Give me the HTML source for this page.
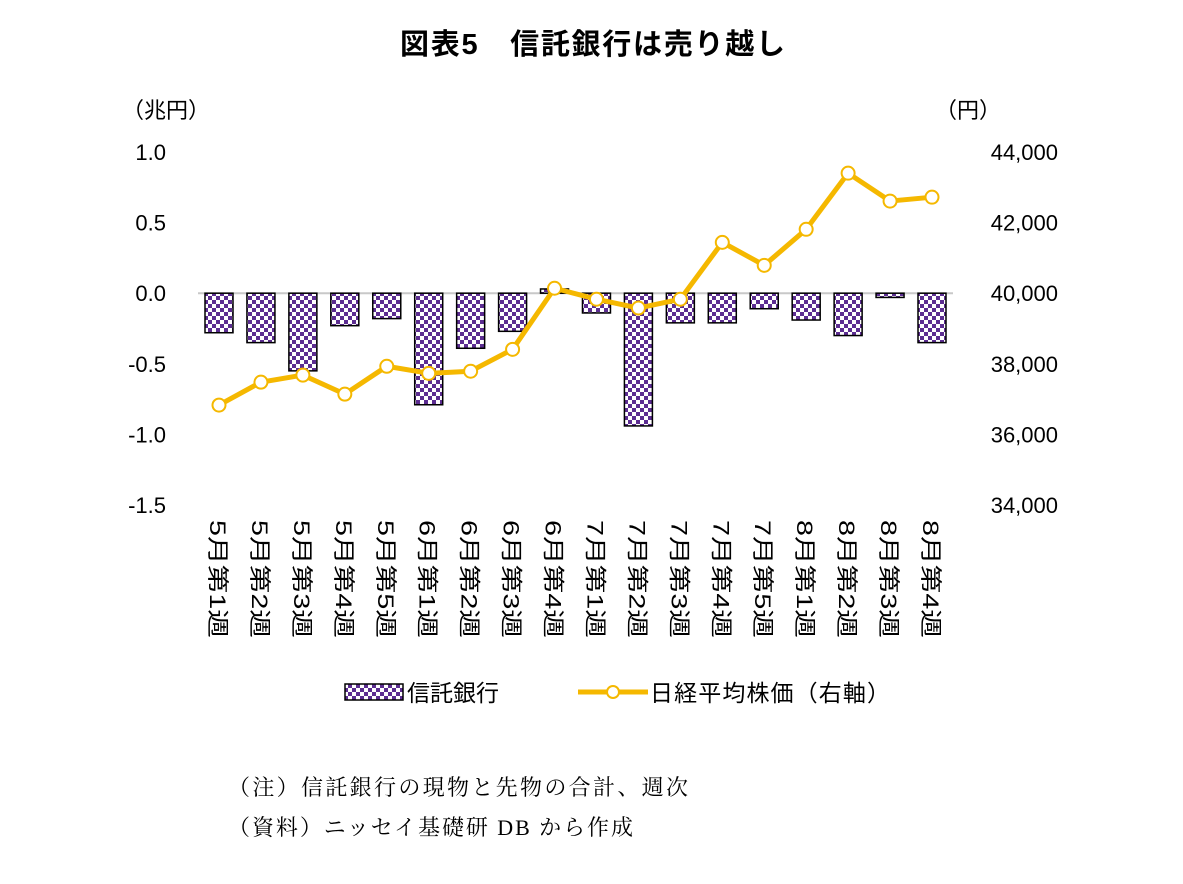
<!DOCTYPE html>
<html><head><meta charset="utf-8"><style>
body{margin:0;background:#fff;}
svg text{font-family:"Liberation Sans","Noto Sans CJK JP",sans-serif;}
</style></head><body>
<svg id="chart" width="1183" height="879" viewBox="0 0 1183 879" xmlns="http://www.w3.org/2000/svg">
<defs>
<pattern id="chk" width="8" height="8" patternUnits="userSpaceOnUse">
<rect width="8" height="8" fill="#fff"/>
<rect width="4" height="4" fill="#5c2d91"/>
<rect x="4" y="4" width="4" height="4" fill="#5c2d91"/>
</pattern>
</defs>
<text x="400" y="54" textLength="385" font-size="29" font-weight="bold" fill="#000">図表5　信託銀行は売り越し</text>
<text x="122" y="118" font-size="22" fill="#000">（兆円）</text>
<text x="935" y="118" font-size="22" fill="#000">（円）</text>
<g id="yl"></g><g id="yr"></g><g id="bars"></g><g id="line"></g><g id="xl"></g>
<g>
<rect x="345" y="684" width="58" height="16" fill="url(#chk)" stroke="#000" stroke-width="1.5"/>
<text x="407" y="701" font-size="23">信託銀行</text>
<line x1="578" y1="692" x2="648" y2="692" stroke="#f5b800" stroke-width="5"/>
<circle cx="613" cy="692" r="6" fill="#fff" stroke="#f5b800" stroke-width="2"/>
<text x="650" y="701" font-size="23" textLength="240">日経平均株価（右軸）</text>
</g>
<text x="228" y="795" font-size="22" textLength="460" style="font-family:'Liberation Serif','Noto Serif CJK SC',serif">（注）信託銀行の現物と先物の合計、週次</text>
<text x="228" y="835" font-size="22" textLength="405" style="font-family:'Liberation Serif','Noto Serif CJK SC',serif">（資料）ニッセイ基礎研 DB から作成</text>
</svg>
<script>
const categories=["5月第1週","5月第2週","5月第3週","5月第4週","5月第5週","6月第1週","6月第2週","6月第3週","6月第4週","7月第1週","7月第2週","7月第3週","7月第4週","7月第5週","8月第1週","8月第2週","8月第3週","8月第4週"];
const trustBanks=[-0.28,-0.35,-0.55,-0.23,-0.18,-0.79,-0.39,-0.27,0.03,-0.14,-0.94,-0.21,-0.21,-0.11,-0.19,-0.30,-0.03,-0.35];
const nikkei=[36830,37480,37680,37140,37930,37730,37790,38410,40140,39830,39580,39830,41440,40790,41810,43400,42610,42720];
const leftTicks=[1.0,0.5,0.0,-0.5,-1.0,-1.5];
const rightTicks=[44000,42000,40000,38000,36000,34000];
const NS="http://www.w3.org/2000/svg";
const yL=v=>152+(1.0-v)/2.5*353;
const yR=v=>152+(44000-v)/10000*353;
const x0=219,step=(932-219)/17;
const xC=i=>x0+i*step;
function mk(t,a,p){const e=document.createElementNS(NS,t);for(const k in a)e.setAttribute(k,a[k]);p.appendChild(e);return e;}
const gl=document.getElementById('yl'),gr=document.getElementById('yr'),gb=document.getElementById('bars'),gn=document.getElementById('line'),gx=document.getElementById('xl');
leftTicks.forEach(v=>{const t=mk('text',{x:166,y:yL(v)+8,'text-anchor':'end','font-size':22},gl);t.textContent=v.toFixed(1);

});
rightTicks.forEach(v=>{const t=mk('text',{x:1058,y:yR(v)+8,'text-anchor':'end','font-size':22},gr);t.textContent=v.toLocaleString('en-US');

});
const zl=mk('line',{x1:198,x2:953,y1:yL(0),y2:yL(0),stroke:'#c8c8c8','stroke-width':2},gb);


trustBanks.forEach((v,i)=>{const y1=yL(Math.max(v,0)),y2=yL(Math.min(v,0));
const r=mk('rect',{x:xC(i)-14,y:y1,width:28,height:Math.max(y2-y1,1),fill:'url(#chk)',stroke:'#000','stroke-width':1.5},gb);

});
const pts=nikkei.map((v,i)=>xC(i)+','+yR(v)).join(' ');
const pl=mk('polyline',{points:pts,fill:'none',stroke:'#f5b800','stroke-width':5,'stroke-linejoin':'round'},gn);


nikkei.forEach((v,i)=>{const c=mk('circle',{cx:xC(i),cy:yR(v),r:6.5,fill:'#fff',stroke:'#f5b800','stroke-width':2},gn);

});
categories.forEach((c,i)=>{const t=mk('text',{x:0,y:0,'font-size':22,textLength:118,lengthAdjust:'spacingAndGlyphs',transform:`translate(${xC(i)-9},520) rotate(90)`},gx);t.textContent=c;

});
</script>
</body></html>
